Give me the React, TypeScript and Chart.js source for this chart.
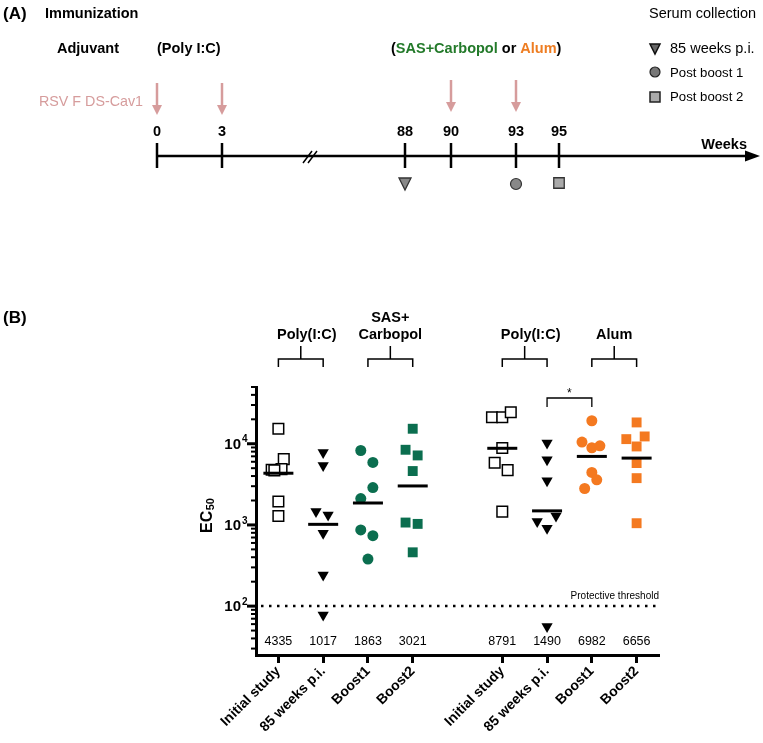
import React, { useEffect, useRef } from 'react';
import { Chart, registerables } from 'chart.js';

Chart.register(...registerables);

// ---------- DATA ----------
const groupLabels = ['Initial study', '85 weeks p.i.', 'Boost1', 'Boost2', 'Initial study', '85 weeks p.i.', 'Boost1', 'Boost2'];
const groupPositions = [0, 1, 2, 3, 5, 6, 7, 8];
const geoMeans = [4335, 1017, 1863, 3021, 8791, 1490, 6982, 6656];

const polyInitial1 = [15300, 6470, 4870, 4780, 4700, 1940, 1290];
const polyInitial1Jitter = [0, 0.12, 0.07, -0.15, -0.09, 0, 0];
const poly85wk1 = [7820, 5400, 1460, 1330, 790, 242, 78];
const poly85wk1Jitter = [0, 0, -0.16, 0.11, 0, 0, 0];
const sasBoost1 = [8260, 5880, 2890, 2110, 867, 738, 380];
const sasBoost1Jitter = [-0.16, 0.11, 0.11, -0.16, -0.16, 0.11, 0];
const sasBoost2 = [15300, 8430, 7180, 4610, 1070, 1030, 460];
const sasBoost2Jitter = [0, -0.16, 0.11, 0, -0.16, 0.11, 0];

const polyInitial2 = [21200, 21200, 24400, 8850, 5830, 4730, 1460];
const polyInitial2Jitter = [-0.23, 0, 0.19, 0, -0.17, 0.12, 0];
const poly85wk2 = [10200, 6340, 3490, 1290, 1100, 910, 56];
const poly85wk2Jitter = [0, 0, 0, 0.2, -0.22, 0, 0];
const alumBoost1 = [19200, 10500, 8930, 9440, 4430, 3600, 2810];
const alumBoost1Jitter = [0, -0.22, 0, 0.18, 0, 0.11, -0.16];
const alumBoost2 = [18300, 11400, 12300, 9260, 5780, 3770, 1050];
const alumBoost2Jitter = [0, -0.23, 0.18, 0, 0, 0, 0];

const protectiveThreshold = 100;
const yMin = 25;
const yMax = 50000;
const yLabelExponents = [2, 3, 4];

const timelineWeeks = ['0', '3', '88', '90', '93', '95'];
const immunizationWeeks = ['0', '3', '90', '93'];

// ---------- STYLE / LAYOUT ----------
const W = 763;
const H = 743;
const FONT = '"Liberation Sans", Arial, Helvetica, sans-serif';
const GREEN = '#0b6e4f';
const ORANGE = '#f47920';
const TEXT_GREEN = '#237a2a';
const TEXT_ORANGE = '#ee7d22';
const PINK = '#d69c9c';

const timelineX: Record<string, number> = { '0': 157, '3': 222, '88': 405, '90': 451, '93': 516, '95': 559 };

function makeData(vals: number[], jit: number[], pos: number) {
  return vals.map((v, i) => ({ x: pos + jit[i], y: v }));
}

function drawMarker(ctx: CanvasRenderingContext2D, shape: string, x: number, y: number, s: number, fill: string, stroke: string, lw: number) {
  ctx.save();
  ctx.beginPath();
  if (shape === 'tri') {
    ctx.moveTo(x - s / 2, y - s / 2);
    ctx.lineTo(x + s / 2, y - s / 2);
    ctx.lineTo(x, y + s / 2);
    ctx.closePath();
  } else if (shape === 'circle') {
    ctx.arc(x, y, s / 2, 0, Math.PI * 2);
  } else {
    ctx.rect(x - s / 2, y - s / 2, s, s);
  }
  ctx.fillStyle = fill;
  ctx.fill();
  ctx.lineWidth = lw;
  ctx.strokeStyle = stroke;
  ctx.stroke();
  ctx.restore();
}

function drawArrowDown(ctx: CanvasRenderingContext2D, x: number, y0: number, tip: number) {
  ctx.save();
  ctx.strokeStyle = PINK;
  ctx.fillStyle = PINK;
  ctx.lineWidth = 2.5;
  ctx.beginPath();
  ctx.moveTo(x, y0);
  ctx.lineTo(x, tip - 8);
  ctx.stroke();
  ctx.beginPath();
  ctx.moveTo(x - 5, tip - 10);
  ctx.lineTo(x + 5, tip - 10);
  ctx.lineTo(x, tip);
  ctx.closePath();
  ctx.fill();
  ctx.restore();
}

const overlayPlugin = {
  id: 'overlay',
  afterDraw(chart: any) {
    const ctx: CanvasRenderingContext2D = chart.ctx;
    const xs = chart.scales.x;
    const ys = chart.scales.y;
    const area = chart.chartArea;
    ctx.save();
    ctx.textBaseline = 'middle';
    ctx.fillStyle = '#000';
    ctx.strokeStyle = '#000';

    // ===== Part A: timeline =====
    ctx.font = `bold 17px ${FONT}`;
    ctx.textAlign = 'left';
    ctx.fillText('(A)', 3, 14);
    ctx.font = `bold 14.5px ${FONT}`;
    ctx.fillText('Immunization', 45, 14);
    ctx.fillText('Adjuvant', 57, 49);
    ctx.fillText('(Poly I:C)', 157, 49);
    const parts: [string, string][] = [['(', '#000'], ['SAS+Carbopol', TEXT_GREEN], [' or ', '#000'], ['Alum', TEXT_ORANGE], [')', '#000']];
    let px = 391;
    for (const [t, c] of parts) {
      ctx.fillStyle = c;
      ctx.fillText(t, px, 49);
      px += ctx.measureText(t).width;
    }
    ctx.fillStyle = '#000';
    ctx.font = `14.5px ${FONT}`;
    ctx.fillText('Serum collection', 649, 14);
    ctx.fillText('85 weeks p.i.', 670, 49);
    ctx.font = `13.2px ${FONT}`;
    ctx.fillText('Post boost 1', 670, 73);
    ctx.fillText('Post boost 2', 670, 97);
    drawMarker(ctx, 'tri', 655, 49, 10, '#666', '#111', 1.5);
    drawMarker(ctx, 'circle', 655, 72, 10, '#777', '#222', 1.2);
    drawMarker(ctx, 'rect', 655, 97, 10, '#aaa', '#222', 1.5);

    ctx.fillStyle = PINK;
    ctx.font = `14.3px ${FONT}`;
    ctx.fillText('RSV F DS-Cav1', 39, 102);
    ctx.fillStyle = '#000';

    immunizationWeeks.forEach((w) => {
      const x = timelineX[w];
      const early = w === '0' || w === '3';
      drawArrowDown(ctx, x, early ? 83 : 80, early ? 115 : 112);
    });

    // axis line
    ctx.lineWidth = 2.5;
    ctx.beginPath();
    ctx.moveTo(157, 156);
    ctx.lineTo(748, 156);
    ctx.stroke();
    ctx.beginPath();
    ctx.moveTo(760, 156);
    ctx.lineTo(745, 150.5);
    ctx.lineTo(745, 161.5);
    ctx.closePath();
    ctx.fill();
    // break marks
    ctx.lineWidth = 1.5;
    ctx.beginPath();
    ctx.moveTo(303, 163);
    ctx.lineTo(312, 151);
    ctx.moveTo(308, 163);
    ctx.lineTo(317, 151);
    ctx.stroke();
    // ticks + labels
    ctx.font = `bold 14.5px ${FONT}`;
    ctx.textAlign = 'center';
    timelineWeeks.forEach((w) => {
      const x = timelineX[w];
      ctx.lineWidth = 2.5;
      ctx.beginPath();
      ctx.moveTo(x, 143);
      ctx.lineTo(x, 168);
      ctx.stroke();
      ctx.fillText(w, x, 132);
    });
    ctx.textAlign = 'right';
    ctx.fillText('Weeks', 747, 145);
    drawMarker(ctx, 'tri', timelineX['88'], 184, 12, '#888', '#333', 1.3);
    drawMarker(ctx, 'circle', timelineX['93'], 184, 11, '#888', '#333', 1.2);
    drawMarker(ctx, 'rect', timelineX['95'], 183, 10.5, '#aaa', '#333', 1.3);

    // ===== Part B =====
    ctx.textAlign = 'left';
    ctx.font = `bold 17px ${FONT}`;
    ctx.fillText('(B)', 3, 318);

    // group brackets
    const brackets = [
      { from: 0, to: 1, lines: ['Poly(I:C)'], shift: 6 },
      { from: 2, to: 3, lines: ['SAS+', 'Carbopol'], shift: 0 },
      { from: 5, to: 6, lines: ['Poly(I:C)'], shift: 6 },
      { from: 7, to: 8, lines: ['Alum'], shift: 0 },
    ];
    ctx.lineWidth = 1.5;
    ctx.font = `bold 14.5px ${FONT}`;
    ctx.textAlign = 'center';
    brackets.forEach((b) => {
      const x1 = xs.getPixelForValue(b.from);
      const x2 = xs.getPixelForValue(b.to);
      const xc = (x1 + x2) / 2;
      ctx.beginPath();
      ctx.moveTo(x1, 367);
      ctx.lineTo(x1, 359);
      ctx.lineTo(x2, 359);
      ctx.lineTo(x2, 367);
      ctx.moveTo(xc, 359);
      ctx.lineTo(xc, 346);
      ctx.stroke();
      if (b.lines.length === 1) {
        ctx.fillText(b.lines[0], xc + b.shift, 335);
      } else {
        ctx.fillText(b.lines[0], xc + b.shift, 318);
        ctx.fillText(b.lines[1], xc + b.shift, 335);
      }
    });

    // significance bracket
    {
      const x1 = xs.getPixelForValue(6);
      const x2 = xs.getPixelForValue(7);
      ctx.lineWidth = 1.3;
      ctx.beginPath();
      ctx.moveTo(x1, 407);
      ctx.lineTo(x1, 398);
      ctx.lineTo(x2, 398);
      ctx.lineTo(x2, 407);
      ctx.stroke();
      ctx.font = `12px ${FONT}`;
      ctx.fillText('*', (x1 + x2) / 2, 394);
    }

    // mean lines
    ctx.lineWidth = 3;
    geoMeans.forEach((m, i) => {
      const x = xs.getPixelForValue(groupPositions[i]);
      const y = ys.getPixelForValue(m);
      ctx.beginPath();
      ctx.moveTo(x - 15, y);
      ctx.lineTo(x + 15, y);
      ctx.stroke();
    });

    // mean value labels
    ctx.font = `12.5px ${FONT}`;
    ctx.textAlign = 'center';
    geoMeans.forEach((m, i) => {
      ctx.fillText(String(m), xs.getPixelForValue(groupPositions[i]), 642);
    });

    // protective threshold
    const ty = ys.getPixelForValue(protectiveThreshold);
    ctx.save();
    ctx.lineWidth = 2.5;
    ctx.setLineDash([2.5, 5.5]);
    ctx.beginPath();
    ctx.moveTo(area.left + 5, ty);
    ctx.lineTo(area.right, ty);
    ctx.stroke();
    ctx.restore();
    ctx.font = `10px ${FONT}`;
    ctx.textAlign = 'right';
    ctx.fillText('Protective threshold', area.right, ty - 10);

    // y-axis tick marks
    const lo = Math.floor(Math.log10(ys.min));
    const hi = Math.ceil(Math.log10(ys.max));
    for (let e = lo; e <= hi; e++) {
      for (let m = 1; m <= 9; m++) {
        const v = m * Math.pow(10, e);
        if (v < ys.min - 1e-9 || v > ys.max + 1e-9) continue;
        const y = ys.getPixelForValue(v);
        const major = m === 1;
        ctx.lineWidth = major ? 3 : 2;
        ctx.beginPath();
        ctx.moveTo(area.left, y);
        ctx.lineTo(area.left - (major ? 9 : 5), y);
        ctx.stroke();
      }
    }
    // y labels 10^n
    yLabelExponents.forEach((e) => {
      const y = ys.getPixelForValue(Math.pow(10, e));
      ctx.textAlign = 'right';
      ctx.font = `bold 15px ${FONT}`;
      ctx.fillText('10', 241, y + 1);
      ctx.textAlign = 'left';
      ctx.font = `bold 10px ${FONT}`;
      ctx.fillText(String(e), 242, y - 4);
    });

    // y title EC50
    ctx.save();
    ctx.translate(212, 533);
    ctx.rotate(-Math.PI / 2);
    ctx.textAlign = 'left';
    ctx.textBaseline = 'alphabetic';
    ctx.font = `bold 16px ${FONT}`;
    ctx.fillText('EC', 0, 0);
    const wEC = ctx.measureText('EC').width;
    ctx.font = `bold 11px ${FONT}`;
    ctx.fillText('50', wEC + 0.5, 2);
    ctx.restore();

    ctx.restore();
  },
};

export default function App() {
  const ref = useRef<HTMLCanvasElement | null>(null);

  useEffect(() => {
    if (!ref.current) return;
    const openSq = { pointStyle: 'rect', pointRadius: 7.5, backgroundColor: '#fff', borderColor: '#000', borderWidth: 1.5 };
    const tri = { pointStyle: 'triangle', rotation: 180, pointRadius: 6.5, backgroundColor: '#000', borderColor: '#000', borderWidth: 0 };
    const circ = (c: string) => ({ pointStyle: 'circle', pointRadius: 5.5, backgroundColor: c, borderColor: c, borderWidth: 0 });
    const sq = (c: string) => ({ pointStyle: 'rect', pointRadius: 7, backgroundColor: c, borderColor: c, borderWidth: 0 });

    const datasets: any[] = [
      { label: 'Poly(I:C) Initial study', data: makeData(polyInitial1, polyInitial1Jitter, groupPositions[0]), ...openSq },
      { label: 'Poly(I:C) 85 weeks p.i.', data: makeData(poly85wk1, poly85wk1Jitter, groupPositions[1]), ...tri },
      { label: 'SAS+Carbopol Boost1', data: makeData(sasBoost1, sasBoost1Jitter, groupPositions[2]), ...circ(GREEN) },
      { label: 'SAS+Carbopol Boost2', data: makeData(sasBoost2, sasBoost2Jitter, groupPositions[3]), ...sq(GREEN) },
      { label: 'Poly(I:C) Initial study (2)', data: makeData(polyInitial2, polyInitial2Jitter, groupPositions[4]), ...openSq },
      { label: 'Poly(I:C) 85 weeks p.i. (2)', data: makeData(poly85wk2, poly85wk2Jitter, groupPositions[5]), ...tri },
      { label: 'Alum Boost1', data: makeData(alumBoost1, alumBoost1Jitter, groupPositions[6]), ...circ(ORANGE) },
      { label: 'Alum Boost2', data: makeData(alumBoost2, alumBoost2Jitter, groupPositions[7]), ...sq(ORANGE) },
    ];

    const chart = new Chart(ref.current, {
      type: 'scatter',
      data: { datasets },
      options: {
        responsive: false,
        animation: false,
        devicePixelRatio: 1,
        layout: { padding: { top: 387, right: 104, bottom: 0, left: 0 } },
        plugins: { legend: { display: false }, tooltip: { enabled: false } },
        scales: {
          x: {
            type: 'linear',
            min: -0.5,
            max: 8.5,
            afterBuildTicks: (s: any) => {
              s.ticks = groupPositions.map((v) => ({ value: v }));
            },
            afterFit: (s: any) => {
              s.height = 88;
            },
            ticks: {
              autoSkip: false,
              minRotation: 45,
              maxRotation: 45,
              padding: 0,
              color: '#000',
              font: { family: FONT, size: 14, weight: 'bold' },
              callback: (v: any) => {
                const i = groupPositions.indexOf(Number(v));
                return i >= 0 ? groupLabels[i] : '';
              },
            },
            grid: { display: true, drawOnChartArea: false, drawTicks: true, tickLength: 8, tickWidth: 3, tickColor: '#000' },
            border: { display: true, width: 3, color: '#000' },
          },
          y: {
            type: 'logarithmic',
            min: yMin,
            max: yMax,
            afterFit: (s: any) => {
              s.width = 256;
            },
            ticks: { display: false },
            grid: { display: false },
            border: { display: true, width: 3, color: '#000' },
          },
        },
      } as any,
      plugins: [overlayPlugin],
    });
    return () => chart.destroy();
  }, []);

  return (
    <div style={{ position: 'fixed', left: 0, top: 0, width: W, height: H, background: '#fff' }}>
      <canvas ref={ref} width={W} height={H} style={{ display: 'block', width: W, height: H }} />
    </div>
  );
}
